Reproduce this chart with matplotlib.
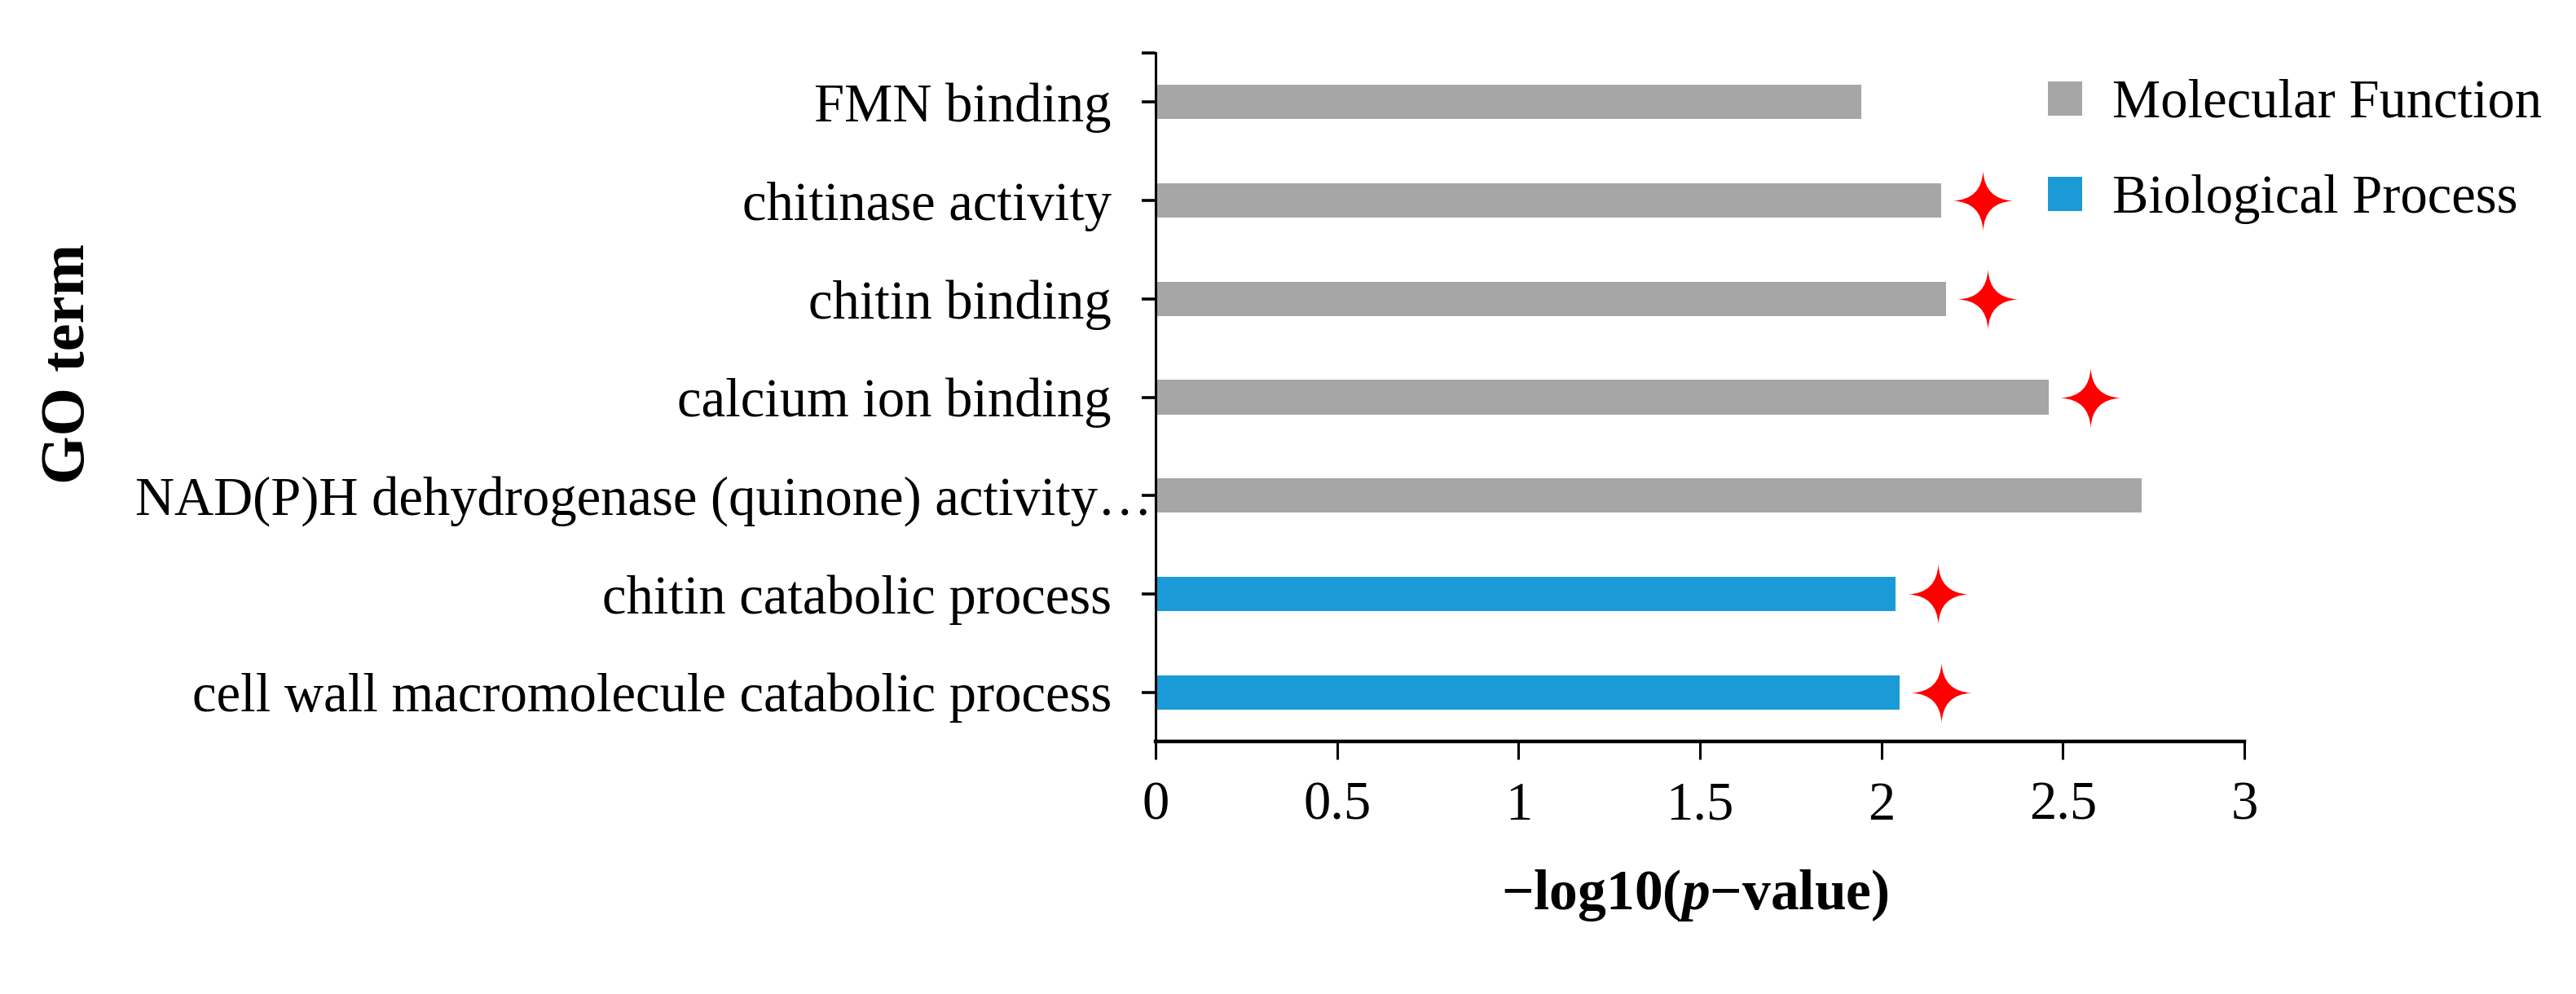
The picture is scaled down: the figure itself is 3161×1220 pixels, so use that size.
import matplotlib
matplotlib.use("Agg")
import matplotlib.pyplot as plt
import matplotlib.transforms as mtransforms
from matplotlib.path import Path
from matplotlib.lines import Line2D

# ---------------- data ----------------
terms = [
    "cell wall macromolecule catabolic process",
    "chitin catabolic process",
    "NAD(P)H dehydrogenase (quinone) activity\u2026",
    "calcium ion binding",
    "chitin binding",
    "chitinase activity",
    "FMN binding",
]
values = [2.05, 2.04, 2.717, 2.461, 2.178, 2.165, 1.945]
categories = ["Biological Process", "Biological Process", "Molecular Function",
              "Molecular Function", "Molecular Function", "Molecular Function",
              "Molecular Function"]
significant = [True, True, False, True, True, True, False]
legend_order = ["Molecular Function", "Biological Process"]
xticks = [0, 0.5, 1, 1.5, 2, 2.5, 3]
xtick_labels = ["0", "0.5", "1", "1.5", "2", "2.5", "3"]

# ---------------- style ----------------
colors = {"Molecular Function": "#A6A6A6", "Biological Process": "#1A9BD7"}
star_color = "#FF0000"
star_offset = 0.115
serif = ["Liberation Serif", "DejaVu Serif"]

plt.rcParams["font.family"] = serif
plt.rcParams["mathtext.fontset"] = "custom"
plt.rcParams["mathtext.it"] = "Liberation Serif:italic:bold"
plt.rcParams["mathtext.rm"] = "Liberation Serif:bold"

W, H = 3161, 1220
fig = plt.figure(figsize=(W / 100, H / 100), dpi=100)
ax = fig.add_axes([1418 / W, 1 - 910 / H, (2754 - 1418) / W, (910 - 65) / H])

ypos = list(range(len(terms)))
bar_colors = [colors[c] for c in categories]
ax.barh(ypos, values, height=0.35, color=bar_colors, zorder=2)

# four-point star marker
k = 0.05
verts = [(0, 1), (k, k), (1, 0), (k, -k), (0, -1), (-k, -k), (-1, 0), (-k, k), (0, 1)]
codes = [Path.MOVETO, Path.CURVE3, Path.CURVE3, Path.CURVE3, Path.CURVE3,
         Path.CURVE3, Path.CURVE3, Path.CURVE3, Path.CURVE3]
star = Path(verts, codes)
sx = [v + star_offset for v, s in zip(values, significant) if s]
sy = [y for y, s in zip(ypos, significant) if s]
ax.plot(sx, sy, linestyle="none", marker=star, markersize=53,
        color=star_color, markeredgewidth=0, zorder=3, clip_on=False)

ax.set_xlim(0, 3)
ax.set_ylim(-0.5, len(terms) - 0.5)
ax.set_xticks(xticks)
ax.set_xticklabels(xtick_labels)
ax.set_yticks(ypos)
ax.set_yticklabels(terms)
ax.set_yticks([len(terms) - 0.5], minor=True)

for side in ["top", "right"]:
    ax.spines[side].set_visible(False)
ax.spines["left"].set_linewidth(2.2)
ax.spines["bottom"].set_linewidth(3.2)
ax.tick_params(axis="x", direction="out", length=16, width=2.2, pad=19,
               labelsize=48)
ax.tick_params(axis="y", which="major", direction="out", length=12, width=2.6,
               pad=27, labelsize=48)
ax.tick_params(axis="y", which="minor", direction="out", length=12, width=2.6)

# shift the truncated label so its ellipsis runs into the axis
nad_label = ax.get_yticklabels()[2]
nad_label.set_transform(nad_label.get_transform() +
                        mtransforms.ScaledTranslation(36 / 72, 0, fig.dpi_scale_trans))

fig.text(2080 / W, 1 - 1099 / H, "\u2212log10($\\mathit{p}$\u2212value)",
         ha="center", va="center", fontsize=50, fontweight="bold")
fig.text(84 / W, 1 - 446 / H, "GO term", rotation=90, ha="center",
         va="center", fontsize=55, fontweight="bold")

handles = [Line2D([], [], linestyle="none", marker="s", markersize=30,
                  markerfacecolor=colors[c], markeredgewidth=0)
           for c in legend_order]
fig.legend(handles, legend_order, loc="upper left",
           bbox_to_anchor=(2501 / W, 1 - 97 / H), frameon=False,
           fontsize=48, handlelength=1.0, handletextpad=0.37,
           labelspacing=0.84, borderpad=0, borderaxespad=0)

fig.savefig("out.png", dpi=100, facecolor="white")
